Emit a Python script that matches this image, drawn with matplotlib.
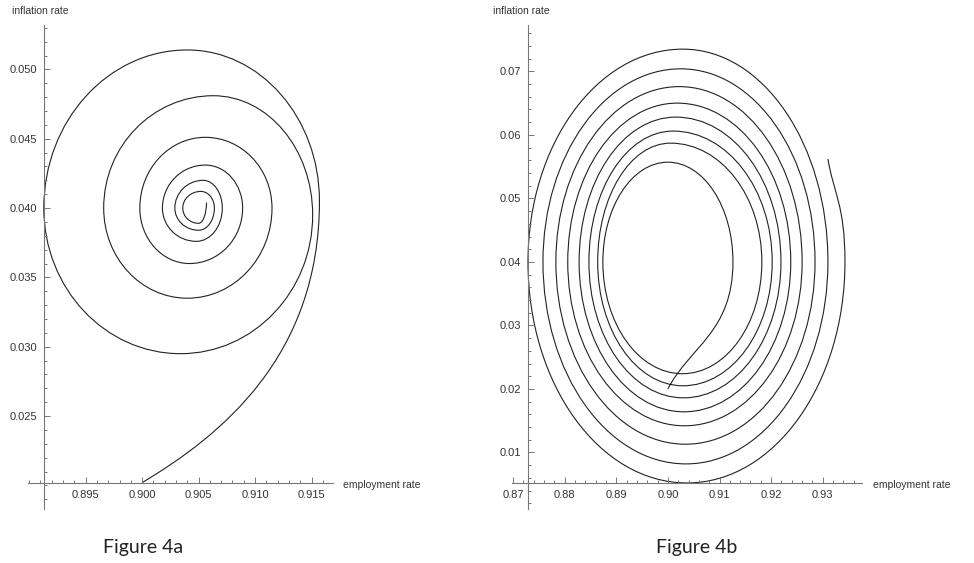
import matplotlib
matplotlib.use('Agg')
import matplotlib.pyplot as plt
from matplotlib.path import Path
from matplotlib.patches import PathPatch
from matplotlib.ticker import MultipleLocator

# extreme points of each quarter turn
# kinds: v = vertical tangent (left/right), h = horizontal tangent (top/bottom),
#        f = free end, d = end leaving at a shallow angle
xa = [0.9000, 0.9157, 0.9040, 0.8913, 0.9034, 0.9151, 0.9063, 0.8966, 0.9040,
      0.9115, 0.9056, 0.8998, 0.9042, 0.9089, 0.9056, 0.9018, 0.9048, 0.9071,
      0.9054, 0.9029, 0.9050, 0.9064, 0.9052, 0.9036, 0.9050, 0.9057]
ya = [0.0202, 0.0405, 0.0514, 0.0400, 0.0295, 0.0395, 0.0481, 0.0400, 0.0335,
      0.0400, 0.0451, 0.0400, 0.0360, 0.0400, 0.0431, 0.0400, 0.0376, 0.0400,
      0.0420, 0.0400, 0.0384, 0.0400, 0.0412, 0.0400, 0.0389, 0.0404]
kinds_a = 'd' + 'vhvh' * 6 + 'v'

xb = [0.9000, 0.9126, 0.9000, 0.8874, 0.9028, 0.9182, 0.9005, 0.8864, 0.9029,
      0.9202, 0.9010, 0.8847, 0.9030, 0.9219, 0.9015, 0.8828, 0.9031, 0.9238,
      0.9018, 0.8806, 0.9032, 0.9260, 0.9022, 0.8783, 0.9034, 0.9285, 0.9025,
      0.8758, 0.9035, 0.9310, 0.9029, 0.8729, 0.9037, 0.9343, 0.9310]
yb = [0.0200, 0.0400, 0.0557, 0.0400, 0.0224, 0.0400, 0.0587, 0.0400, 0.0205,
      0.0400, 0.0606, 0.0400, 0.0186, 0.0400, 0.0628, 0.0400, 0.0164, 0.0400,
      0.0650, 0.0400, 0.0142, 0.0400, 0.0676, 0.0400, 0.0113, 0.0400, 0.0704,
      0.0400, 0.0082, 0.0400, 0.0735, 0.0400, 0.0052, 0.0400, 0.0562]
kinds_b = 'f' + 'vhvh' * 8 + 'v' + 'f'

K = 0.5523  # bezier handle for a quarter ellipse


def handle(p, kind, q):
    # control point leaving p towards q
    dx, dy = q[0] - p[0], q[1] - p[1]
    if kind == 'v':
        return (p[0], p[1] + K * dy)
    if kind == 'h':
        return (p[0] + K * dx, p[1])
    if kind == 'd':
        return (p[0] + (K * dx + dx / 3) / 2, p[1] + dy / 6)
    return (p[0] + dx / 3, p[1] + dy / 3)


def spiral_path(xs, ys, kinds):
    pts = list(zip(xs, ys))
    verts = [pts[0]]
    codes = [Path.MOVETO]
    for i in range(len(pts) - 1):
        p, q = pts[i], pts[i + 1]
        verts += [handle(p, kinds[i], q), handle(q, kinds[i + 1], p), q]
        codes += [Path.CURVE4] * 3
    return Path(verts, codes)


plt.rcParams['font.family'] = ['Liberation Sans', 'DejaVu Sans']
fig = plt.figure(figsize=(9.74, 5.63), dpi=100)

panels = [
    dict(x=xa, y=ya, k=kinds_a, pos=[28/974, 54/563, 305/974, 484/563],
         xlim=(0.8899, 0.9169), ylim=(0.0183, 0.0532), xmin=0.001, ymin=0.001,
         xfmt='%.3f', yfmt='%.3f',
         xt=[0.895, 0.900, 0.905, 0.910, 0.915], yt=[0.025, 0.030, 0.035, 0.040, 0.045, 0.050],
         ylab=(12/974, 1 - 11/563), xlab=(343/974, 1 - 485/563), fig=('Figure 4a', 143/974)),
    dict(x=xb, y=yb, k=kinds_b, pos=[512/974, 54/563, 350/974, 484/563],
         xlim=(0.8698, 0.9376), ylim=(0.0011, 0.0773), xmin=0.002, ymin=0.002,
         xfmt='%.2f', yfmt='%.2f',
         xt=[0.87, 0.88, 0.89, 0.90, 0.91, 0.92, 0.93], yt=[0.01, 0.02, 0.03, 0.04, 0.05, 0.06, 0.07],
         ylab=(493/974, 1 - 11/563), xlab=(873/974, 1 - 485/563), fig=('Figure 4b', 697/974)),
]

for p in panels:
    ax = fig.add_axes(p['pos'])
    ax.add_patch(PathPatch(spiral_path(p['x'], p['y'], p['k']), facecolor='none',
                           edgecolor='#222222', lw=0.8))
    ax.set_xlim(*p['xlim'])
    ax.set_ylim(*p['ylim'])
    ax.spines['top'].set_visible(False)
    ax.spines['right'].set_visible(False)
    ax.spines['left'].set_position(('data', min(p['x'])))
    ax.spines['bottom'].set_position(('data', min(p['y'])))
    for s in ('left', 'bottom'):
        ax.spines[s].set_color('#777777')
        ax.spines[s].set_linewidth(0.8)
    ax.xaxis.set_minor_locator(MultipleLocator(p['xmin']))
    ax.yaxis.set_minor_locator(MultipleLocator(p['ymin']))
    ax.set_xticks(p['xt'])
    ax.set_yticks(p['yt'])
    ax.set_xticklabels([p['xfmt'] % v for v in p['xt']])
    ax.set_yticklabels([p['yfmt'] % v for v in p['yt']])
    ax.tick_params(which='both', direction='in', color='#777777', width=0.7,
                   labelsize=8, labelcolor='#333333')
    ax.tick_params(which='major', length=4, pad=5)
    ax.tick_params(which='minor', length=2)
    fig.text(p['ylab'][0], p['ylab'][1], 'inflation rate', fontsize=7.5,
             color='#333333', va='center', ha='left')
    fig.text(p['xlab'][0], p['xlab'][1], 'employment rate', fontsize=7.5,
             color='#333333', va='center', ha='left')
    fig.text(p['fig'][1], 1 - 548/563, p['fig'][0], fontsize=14, family='Lato',
             color='#222222', ha='center', va='center')

fig.savefig('out.png', dpi=100)
